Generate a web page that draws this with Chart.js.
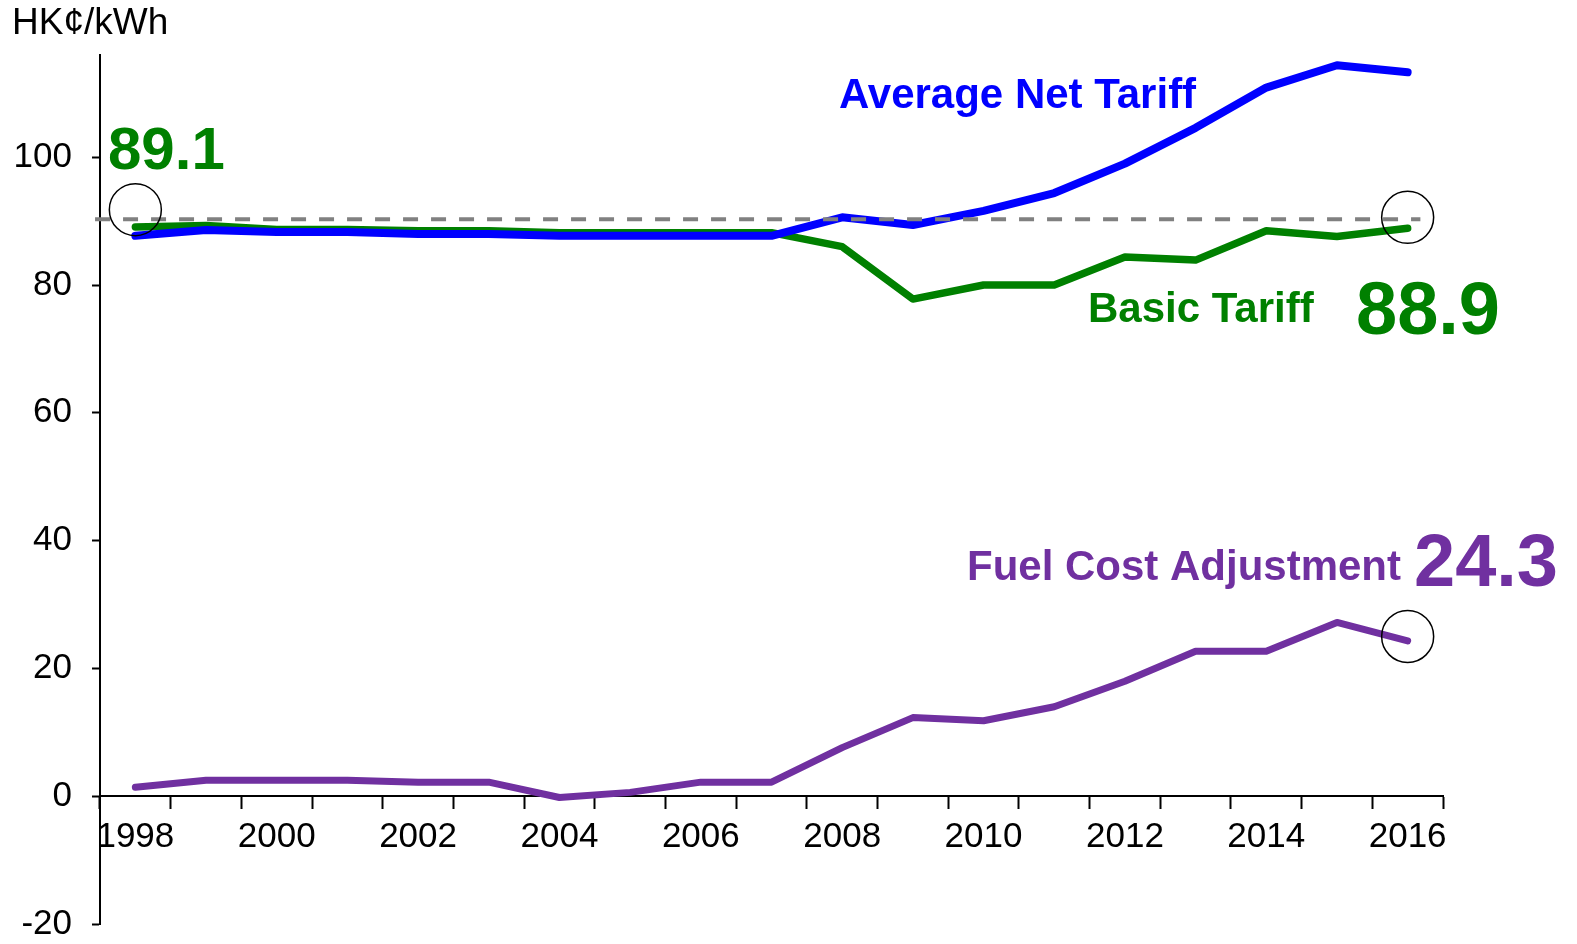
<!DOCTYPE html>
<html>
<head>
<meta charset="utf-8">
<script src="https://cdn.jsdelivr.net/npm/chart.js@4.4.1/dist/chart.umd.min.js"></script>
<style>
    html, body { margin: 0; padding: 0; background: #fff; }
    #wrap { width: 1577px; height: 944px; }
</style>
</head>
<body>
<div id="wrap"><canvas id="tariffChart"></canvas></div>
<script>
const years = ['1998', '1999', '2000', '2001', '2002', '2003', '2004', '2005', '2006', '2007',
    '2008', '2009', '2010', '2011', '2012', '2013', '2014', '2015', '2016'];
const avgNetTariff = [87.7, 88.6, 88.3, 88.3, 88.0, 88.0, 87.7, 87.7, 87.7, 87.7,
    90.6, 89.4, 91.6, 94.4, 99.0, 104.6, 110.9, 114.4, 113.3];
const basicTariff = [89.1, 89.3, 88.7, 88.7, 88.5, 88.5, 88.2, 88.2, 88.2, 88.2,
    86.0, 77.8, 80.0, 80.0, 84.4, 83.9, 88.5, 87.6, 88.9];
const fuelCostAdj = [1.4, 2.5, 2.5, 2.5, 2.2, 2.2, -0.2, 0.6, 2.2, 2.2,
    7.6, 12.3, 11.8, 14.0, 18.0, 22.7, 22.7, 27.2, 24.3];
const yTicks = [-20, 0, 20, 40, 60, 80, 100];
// dashed reference line (hidden linear x axis, in years)
const refLineX = [1997.43, 2016.18];
const refLineY = [90.3, 90.3];
// highlight circles
const circleYears = ['1998', '2016', '2016'];
const circleValues = [91.8, 90.6, 25.0];

const FONT = "'Liberation Sans', Arial, sans-serif";

// text callouts drawn on top of the chart
const notes = [
    { text: 'HK\u00A2/kWh', x: 12, y: 24, size: 37, bold: false, color: '#000000' },
    { text: '89.1', x: 108, y: 152, size: 60, bold: true, color: '#008000' },
    { text: 'Average Net Tariff', x: 839, y: 96, size: 42, bold: true, color: '#0000FF' },
    { text: 'Basic Tariff', x: 1088, y: 310, size: 42, bold: true, color: '#008000' },
    { text: '88.9', x: 1356, y: 314, size: 74, bold: true, color: '#008000' },
    { text: 'Fuel Cost Adjustment', x: 967, y: 568, size: 42, bold: true, color: '#7030A0' },
    { text: '24.3', x: 1414, y: 566, size: 74, bold: true, color: '#7030A0' }
];

const notesPlugin = {
    id: 'notes',
    afterDraw(chart) {
        const ctx = chart.ctx;
        ctx.save();
        ctx.textAlign = 'left';
        ctx.textBaseline = 'middle';
        notes.forEach(n => {
            ctx.font = `${n.bold ? 'bold ' : ''}${n.size}px ${FONT}`;
            ctx.fillStyle = n.color;
            ctx.fillText(n.text, n.x, n.y);
        });
        ctx.restore();
    }
};

function noPadding(scale) {
    scale.paddingTop = 0;
    scale.paddingBottom = 0;
}

const ctx = document.getElementById('tariffChart').getContext('2d');
const tariffChart = new Chart(ctx, {
    type: 'line',
    data: {
        labels: years,
        datasets: [
            {
                label: 'circles',
                data: circleYears.map((y, i) => ({ x: y, y: circleValues[i] })),
                showLine: false,
                pointRadius: 26,
                pointBorderWidth: 1.5,
                pointBorderColor: '#000000',
                pointBackgroundColor: 'rgba(0,0,0,0)',
                clip: false,
                order: 0
            },
            {
                label: 'reference',
                data: refLineX.map((x, i) => ({ x: x, y: refLineY[i] })),
                xAxisID: 'x2',
                borderColor: '#808080',
                borderWidth: 4,
                borderDash: [15, 13],
                pointRadius: 0,
                clip: false,
                order: 1
            },
            {
                label: 'Average Net Tariff',
                data: avgNetTariff,
                borderColor: '#0000FF',
                borderWidth: 8,
                borderJoinStyle: 'round',
                borderCapStyle: 'round',
                pointRadius: 0,
                order: 2
            },
            {
                label: 'Basic Tariff',
                data: basicTariff,
                borderColor: '#008000',
                borderWidth: 7.5,
                borderJoinStyle: 'round',
                borderCapStyle: 'round',
                pointRadius: 0,
                order: 3
            },
            {
                label: 'Fuel Cost Adjustment',
                data: fuelCostAdj,
                borderColor: '#7030A0',
                borderWidth: 7,
                borderJoinStyle: 'round',
                borderCapStyle: 'round',
                pointRadius: 0,
                order: 4
            }
        ]
    },
    options: {
        responsive: true,
        maintainAspectRatio: false,
        animation: false,
        devicePixelRatio: 1,
        layout: {
            autoPadding: false,
            padding: { top: 55, right: 134, bottom: 20, left: 0 }
        },
        plugins: {
            legend: { display: false },
            tooltip: { enabled: false }
        },
        scales: {
            x: {
                type: 'category',
                position: { y: 0 },
                offset: true,
                afterFit: noPadding,
                grid: {
                    offset: true,
                    drawOnChartArea: false,
                    drawTicks: true,
                    tickLength: 12,
                    tickWidth: 2,
                    tickColor: '#000000'
                },
                border: { display: true, color: '#000000', width: 2 },
                ticks: {
                    autoSkip: false,
                    maxRotation: 0,
                    color: '#000000',
                    padding: 8,
                    font: { family: FONT, size: 35 },
                    callback: (v, i) => (i % 2 === 0 ? years[i] : '')
                }
            },
            x2: {
                type: 'linear',
                display: false,
                min: 1997.5,
                max: 2016.5
            },
            y: {
                type: 'linear',
                min: -20,
                max: 116,
                afterBuildTicks: (scale) => { scale.ticks = yTicks.map(v => ({ value: v })); },
                afterFit: (scale) => { scale.width = 100; noPadding(scale); },
                grid: {
                    drawOnChartArea: false,
                    tickLength: 8,
                    tickWidth: 2,
                    tickColor: '#000000'
                },
                border: { display: true, color: '#000000', width: 2 },
                ticks: {
                    color: '#000000',
                    padding: 20,
                    font: { family: FONT, size: 35 }
                }
            }
        }
    },
    plugins: [notesPlugin]
});
</script>
</body>
</html>
